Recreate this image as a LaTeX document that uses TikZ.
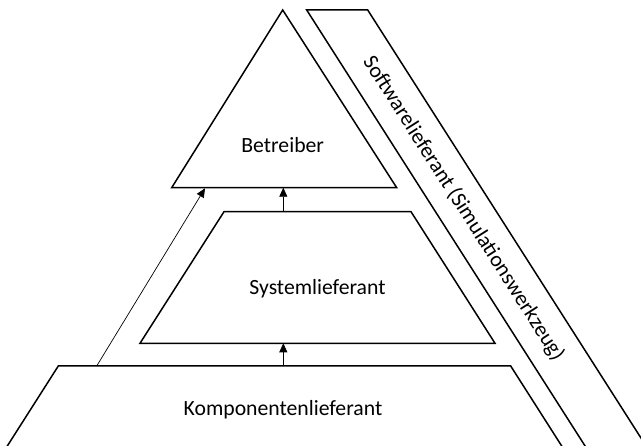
\documentclass[tikz,border=0pt]{standalone}
\usepackage{fontspec}
\setmainfont{Carlito}
\usetikzlibrary{arrows.meta}
\begin{document}
\begin{tikzpicture}[x=1pt,y=-1pt,
  shapeline/.style={draw=black,line width=1.5pt,line join=miter},
  flow/.style={draw=black,line width=0.7pt,-{Triangle[length=9pt,width=8pt]}},
  lbl/.style={font=\fontsize{21.7}{26}\selectfont,inner sep=0pt}]
\useasboundingbox (0,0) rectangle (641,446);
\begin{scope}
\clip (0,0) rectangle (641,446);
% Betreiber triangle
\coordinate (tA) at (282.7,10);
\coordinate (tL) at (171.7,187.7);
\coordinate (tR) at (396.7,187.7);
\draw[shapeline] (tA) -- (tR) -- (tL) -- cycle;
% Systemlieferant trapezoid
\coordinate (sTL) at (224,211.7);
\coordinate (sTR) at (411,211.7);
\coordinate (sBR) at (495,343.3);
\coordinate (sBL) at (140,343.3);
\draw[shapeline] (sTL) -- (sTR) -- (sBR) -- (sBL) -- cycle;
% Komponentenlieferant trapezoid (cut off at bottom)
\coordinate (kTL) at (58.3,366);
\coordinate (kTR) at (510.7,366);
\coordinate (kBR) at (563.3,448.5);
\coordinate (kBL) at (5.7,448.5);
\draw[shapeline] (kBL) -- (kTL) -- (kTR) -- (kBR);
% Software band
\coordinate (bTL) at (306.7,10);
\coordinate (bTR) at (367.7,10);
\coordinate (bBR) at (648,449);
\coordinate (bBL) at (587,449);
\draw[shapeline] (bBL) -- (bTL) -- (bTR) -- (bBR);
\end{scope}
% labels
\node[lbl] (betreiber) at (282.7,145) {Betreiber};
\node[lbl] (system) at (317.5,289) {Systemlieferant};
\node[lbl] (komp) at (283,410) {Komponentenlieferant};
\node[lbl,rotate=-57.46] (software) at (463.5,208.5) {Softwarelieferant (Simulationswerkzeug)};
% arrows
\coordinate (a1s) at (283.3,211.7);
\coordinate (a1e) at (283.3,187.7);
\coordinate (a2s) at (283.3,366);
\coordinate (a2e) at (283.3,343.3);
\coordinate (a3s) at (96.7,366);
\coordinate (a3e) at (205,188.3);
\draw[flow] (a1s) -- (a1e);
\draw[flow] (a2s) -- (a2e);
\draw[flow] (a3s) -- (a3e);
\end{tikzpicture}
\end{document}
